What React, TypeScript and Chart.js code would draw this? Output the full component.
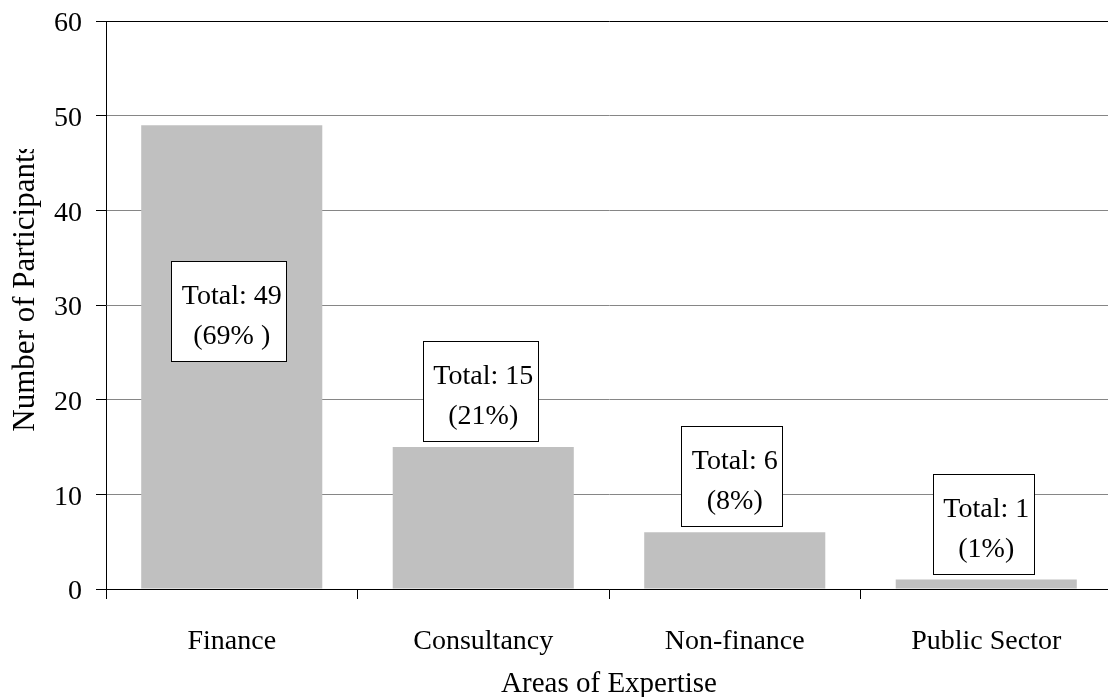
import { useEffect, useRef } from "react";
import { Chart, registerables } from "chart.js";

Chart.register(...registerables);

// Participants by area of expertise
const categories = ["Finance", "Consultancy", "Non-finance", "Public Sector"];
const participants = [49, 15, 6, 1];
const shareLabels = ["(69% )", "(21%)", "(8%)", "(1%)"];
const yTickValues = [0, 10, 20, 30, 40, 50, 60];
const xTitle = "Areas of Expertise";
const yTitle = "Number of Participants";

const SERIF = '"Liberation Serif", "Times New Roman", Times, serif';

// Boxed "Total / share" call-outs above (or inside) each bar
const totalBoxes = {
  id: "totalBoxes",
  afterDatasetsDraw(chart: any) {
    const { ctx, chartArea } = chart;
    const meta = chart.getDatasetMeta(0);
    const yScale = chart.scales.y;
    ctx.save();
    ctx.font = `28px ${SERIF}`;
    meta.data.forEach((bar: any, i: number) => {
      const line1 = `Total: ${participants[i]}`;
      const line2 = shareLabels[i];
      const w = Math.round(
        Math.max(ctx.measureText(line1).width, ctx.measureText(line2).width) + 15
      );
      const h = 100;
      const cx = bar.x - 3;
      let top = bar.y - 6 - h;
      if (top < chartArea.top) {
        // not enough room above: sit the box inside the bar
        top = yScale.getPixelForValue(participants[i] * 0.6) - h / 2;
      }
      const left = Math.round(cx - w / 2) + 0.5;
      top = Math.round(top) + 0.5;
      ctx.fillStyle = "#ffffff";
      ctx.fillRect(left, top, w, h);
      ctx.strokeStyle = "#000000";
      ctx.lineWidth = 1;
      ctx.strokeRect(left, top, w, h);
      ctx.fillStyle = "#000000";
      ctx.textAlign = "center";
      ctx.textBaseline = "alphabetic";
      ctx.fillText(line1, cx + 3, top + 42);
      ctx.fillText(line2, cx + 3, top + 82);
    });
    ctx.restore();
  },
};

// Rotated y-axis title, cut off by its frame at the top
const yAxisTitle = {
  id: "yAxisTitle",
  afterDraw(chart: any) {
    const { ctx, chartArea } = chart;
    const midY = (chartArea.top + chartArea.bottom) / 2;
    ctx.save();
    ctx.beginPath();
    ctx.rect(0, 149, 80, chart.height - 149);
    ctx.clip();
    ctx.translate(34, midY);
    ctx.rotate(-Math.PI / 2);
    ctx.font = `31px ${SERIF}`;
    ctx.fillStyle = "#000000";
    ctx.textAlign = "center";
    ctx.textBaseline = "alphabetic";
    ctx.fillText(yTitle, 18, 0);
    ctx.restore();
  },
};

export default function App() {
  const canvasRef = useRef<HTMLCanvasElement | null>(null);

  useEffect(() => {
    const canvas = canvasRef.current;
    if (!canvas) return;
    const chart = new Chart(canvas, {
      type: "bar",
      data: {
        labels: categories,
        datasets: [
          {
            data: participants,
            backgroundColor: "#c0c0c0",
            borderWidth: 0,
            barPercentage: 0.72,
            categoryPercentage: 1,
          },
        ],
      },
      options: {
        responsive: false,
        animation: false,
        devicePixelRatio: 1,
        layout: { padding: { top: 21, left: 0, right: 0, bottom: 0 } },
        plugins: {
          legend: { display: false },
          tooltip: { enabled: false },
        },
        scales: {
          x: {
            offset: true,
            grid: {
              offset: true,
              drawOnChartArea: false,
              drawTicks: true,
              tickLength: 10,
              color: "#000000",
              tickColor: "#000000",
            },
            border: { display: true, color: "#000000", width: 1 },
            ticks: {
              color: "#000000",
              padding: 26,
              font: { family: SERIF, size: 28 },
              maxRotation: 0,
              autoSkip: false,
            },
            title: {
              display: true,
              text: xTitle,
              color: "#000000",
              font: { family: SERIF, size: 29, lineHeight: 1 },
              padding: { top: 0, bottom: -2 },
            },
            afterFit: (scale: any) => {
              scale.height = 108;
              scale.paddingLeft = 0;
              scale.paddingRight = 0;
            },
          },
          y: {
            min: 0,
            max: 60,
            afterBuildTicks: (scale: any) => {
              scale.ticks = yTickValues.map((v) => ({ value: v }));
            },
            grid: {
              drawTicks: true,
              tickLength: 10,
              color: (c: any) =>
                c.tick && (c.tick.value === 60 || c.tick.value === 0)
                  ? "#000000"
                  : "#868686",
              tickColor: "#000000",
            },
            border: { display: true, color: "#000000", width: 1 },
            ticks: {
              color: "#000000",
              padding: 14,
              labelOffset: 3,
              font: { family: SERIF, size: 28 },
            },
            afterFit: (scale: any) => {
              scale.width = 106;
              scale.paddingTop = 0;
              scale.paddingBottom = 0;
            },
          },
        },
      },
      plugins: [totalBoxes, yAxisTitle],
    });
    return () => chart.destroy();
  }, []);

  return (
    <div
      style={{
        position: "fixed",
        left: 0,
        top: 0,
        width: 1108,
        height: 697,
        overflow: "hidden",
        background: "#ffffff",
      }}
    >
      <canvas ref={canvasRef} width={1112} height={697} style={{ display: "block" }} />
    </div>
  );
}
